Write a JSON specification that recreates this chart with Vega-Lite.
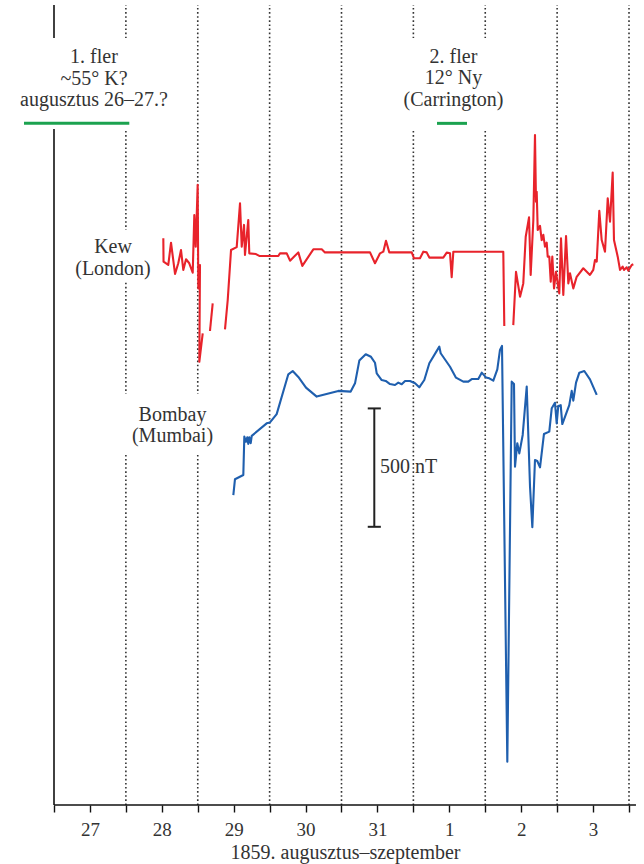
{
  "$schema": "https://vega.github.io/schema/vega-lite/v6.json",
  "width": 644,
  "height": 805,
  "autosize": {"type": "none"},
  "padding": {"left": 0, "top": 0, "right": 0, "bottom": 59},
  "background": "white",
  "config": {"view": {"stroke": null}},
  "datasets": {
    "guides": [
      {"kind": "day", "d": 1, "d2": 1, "v": 0, "v2": 3379},
      {"kind": "day", "d": 2, "d2": 2, "v": 0, "v2": 3379},
      {"kind": "day", "d": 3, "d2": 3, "v": 0, "v2": 3379},
      {"kind": "day", "d": 4, "d2": 4, "v": 0, "v2": 3379},
      {"kind": "day", "d": 5, "d2": 5, "v": 0, "v2": 3379},
      {"kind": "day", "d": 6, "d2": 6, "v": 0, "v2": 3379},
      {"kind": "day", "d": 7, "d2": 7, "v": 0, "v2": 3379},
      {"kind": "day", "d": 8, "d2": 8, "v": 0, "v2": 3379},
      {"kind": "axis", "d": 0, "d2": 0, "v": 0, "v2": 3379},
      {"kind": "axis", "d": 0, "d2": 8.097, "v": 0, "v2": 0},
      {"kind": "flare", "d": -0.4174, "d2": 1.0477, "v": 2879, "v2": 2879},
      {"kind": "flare", "d": 5.3287, "d2": 5.7461, "v": 2879, "v2": 2879},
      {"kind": "scale", "d": 4.4563, "d2": 4.4563, "v": 1175, "v2": 1675},
      {"kind": "scale", "d": 4.3652, "d2": 4.5474, "v": 1675, "v2": 1675},
      {"kind": "scale", "d": 4.3652, "d2": 4.5474, "v": 1175, "v2": 1175}
    ],
    "boxes": [
      {"d": -0.64, "d2": 1.8226, "v": 2855, "v2": 3240},
      {"d": 4.6748, "d2": 6.4139, "v": 2855, "v2": 3240},
      {"d": 0.2504, "d2": 1.3913, "v": 2213, "v2": 2429},
      {"d": 0.9183, "d2": 2.24, "v": 1478, "v2": 1736}
    ],
    "labels": [
      {"text": "1. fler\n~55° K?\naugusztus 26–27.?", "d": 0.5565, "v": 3133},
      {"text": "2. fler\n12° Ny\n(Carrington)", "d": 5.5582, "v": 3136},
      {"text": "Kew\n(London)", "d": 0.8209, "v": 2330},
      {"text": "Bombay\n(Mumbai)", "d": 1.6487, "v": 1623}
    ],
    "scalelabel": [
      {"text": "500 nT", "d": 4.5356, "v": 1401}
    ],
    "lines": [
      {"station": "Kew", "seg": "K1", "d": 1.521, "v": 2394},
      {"station": "Kew", "seg": "K1", "d": 1.524, "v": 2295},
      {"station": "Kew", "seg": "K1", "d": 1.590, "v": 2281},
      {"station": "Kew", "seg": "K1", "d": 1.628, "v": 2375},
      {"station": "Kew", "seg": "K1", "d": 1.684, "v": 2243},
      {"station": "Kew", "seg": "K1", "d": 1.729, "v": 2288},
      {"station": "Kew", "seg": "K1", "d": 1.767, "v": 2344},
      {"station": "Kew", "seg": "K1", "d": 1.799, "v": 2260},
      {"station": "Kew", "seg": "K1", "d": 1.837, "v": 2305},
      {"station": "Kew", "seg": "K1", "d": 1.882, "v": 2288},
      {"station": "Kew", "seg": "K1", "d": 1.930, "v": 2248},
      {"station": "Kew", "seg": "K1", "d": 1.952, "v": 2492},
      {"station": "Kew", "seg": "K1", "d": 1.972, "v": 2358},
      {"station": "Kew", "seg": "K1", "d": 1.999, "v": 2619},
      {"station": "Kew", "seg": "K1", "d": 2.008, "v": 2182},
      {"station": "Kew", "seg": "K1", "d": 2.031, "v": 2281},
      {"station": "Kew", "seg": "K1", "d": 2.022, "v": 1872},
      {"station": "Kew", "seg": "K1", "d": 2.069, "v": 1992},
      {"station": "Kew", "seg": "K2", "d": 2.170, "v": 2002},
      {"station": "Kew", "seg": "K2", "d": 2.208, "v": 2119},
      {"station": "Kew", "seg": "K3", "d": 2.379, "v": 2009},
      {"station": "Kew", "seg": "K3", "d": 2.417, "v": 2133},
      {"station": "Kew", "seg": "K3", "d": 2.463, "v": 2344},
      {"station": "Kew", "seg": "K3", "d": 2.542, "v": 2356},
      {"station": "Kew", "seg": "K3", "d": 2.588, "v": 2541},
      {"station": "Kew", "seg": "K3", "d": 2.612, "v": 2358},
      {"station": "Kew", "seg": "K3", "d": 2.644, "v": 2450},
      {"station": "Kew", "seg": "K3", "d": 2.657, "v": 2323},
      {"station": "Kew", "seg": "K3", "d": 2.703, "v": 2471},
      {"station": "Kew", "seg": "K3", "d": 2.717, "v": 2330},
      {"station": "Kew", "seg": "K3", "d": 2.810, "v": 2327},
      {"station": "Kew", "seg": "K3", "d": 2.856, "v": 2319},
      {"station": "Kew", "seg": "K3", "d": 3.121, "v": 2319},
      {"station": "Kew", "seg": "K3", "d": 3.144, "v": 2330},
      {"station": "Kew", "seg": "K3", "d": 3.238, "v": 2330},
      {"station": "Kew", "seg": "K3", "d": 3.284, "v": 2299},
      {"station": "Kew", "seg": "K3", "d": 3.399, "v": 2334},
      {"station": "Kew", "seg": "K3", "d": 3.455, "v": 2277},
      {"station": "Kew", "seg": "K3", "d": 3.608, "v": 2347},
      {"station": "Kew", "seg": "K3", "d": 3.725, "v": 2347},
      {"station": "Kew", "seg": "K3", "d": 3.770, "v": 2334},
      {"station": "Kew", "seg": "K3", "d": 4.397, "v": 2334},
      {"station": "Kew", "seg": "K3", "d": 4.466, "v": 2288},
      {"station": "Kew", "seg": "K3", "d": 4.536, "v": 2330},
      {"station": "Kew", "seg": "K3", "d": 4.582, "v": 2337},
      {"station": "Kew", "seg": "K3", "d": 4.619, "v": 2383},
      {"station": "Kew", "seg": "K3", "d": 4.665, "v": 2334},
      {"station": "Kew", "seg": "K3", "d": 4.977, "v": 2334},
      {"station": "Kew", "seg": "K3", "d": 5.009, "v": 2309},
      {"station": "Kew", "seg": "K3", "d": 5.092, "v": 2309},
      {"station": "Kew", "seg": "K3", "d": 5.138, "v": 2337},
      {"station": "Kew", "seg": "K3", "d": 5.185, "v": 2334},
      {"station": "Kew", "seg": "K3", "d": 5.222, "v": 2312},
      {"station": "Kew", "seg": "K3", "d": 5.416, "v": 2312},
      {"station": "Kew", "seg": "K3", "d": 5.464, "v": 2333},
      {"station": "Kew", "seg": "K3", "d": 5.510, "v": 2330},
      {"station": "Kew", "seg": "K3", "d": 5.533, "v": 2229},
      {"station": "Kew", "seg": "K3", "d": 5.556, "v": 2337},
      {"station": "Kew", "seg": "K3", "d": 6.251, "v": 2337},
      {"station": "Kew", "seg": "K3", "d": 6.265, "v": 2023},
      {"station": "Kew", "seg": "K4", "d": 6.390, "v": 2027},
      {"station": "Kew", "seg": "K4", "d": 6.428, "v": 2252},
      {"station": "Kew", "seg": "K4", "d": 6.484, "v": 2147},
      {"station": "Kew", "seg": "K4", "d": 6.529, "v": 2203},
      {"station": "Kew", "seg": "K4", "d": 6.563, "v": 2400},
      {"station": "Kew", "seg": "K4", "d": 6.609, "v": 2482},
      {"station": "Kew", "seg": "K4", "d": 6.632, "v": 2239},
      {"station": "Kew", "seg": "K4", "d": 6.669, "v": 2471},
      {"station": "Kew", "seg": "K4", "d": 6.692, "v": 2830},
      {"station": "Kew", "seg": "K4", "d": 6.706, "v": 2548},
      {"station": "Kew", "seg": "K4", "d": 6.716, "v": 2590},
      {"station": "Kew", "seg": "K4", "d": 6.730, "v": 2429},
      {"station": "Kew", "seg": "K4", "d": 6.762, "v": 2446},
      {"station": "Kew", "seg": "K4", "d": 6.785, "v": 2386},
      {"station": "Kew", "seg": "K4", "d": 6.808, "v": 2408},
      {"station": "Kew", "seg": "K4", "d": 6.831, "v": 2358},
      {"station": "Kew", "seg": "K4", "d": 6.855, "v": 2375},
      {"station": "Kew", "seg": "K4", "d": 6.869, "v": 2316},
      {"station": "Kew", "seg": "K4", "d": 6.891, "v": 2316},
      {"station": "Kew", "seg": "K4", "d": 6.911, "v": 2210},
      {"station": "Kew", "seg": "K4", "d": 6.933, "v": 2316},
      {"station": "Kew", "seg": "K4", "d": 6.957, "v": 2182},
      {"station": "Kew", "seg": "K4", "d": 6.984, "v": 2252},
      {"station": "Kew", "seg": "K4", "d": 7.030, "v": 2161},
      {"station": "Kew", "seg": "K4", "d": 7.054, "v": 2394},
      {"station": "Kew", "seg": "K4", "d": 7.086, "v": 2154},
      {"station": "Kew", "seg": "K4", "d": 7.124, "v": 2403},
      {"station": "Kew", "seg": "K4", "d": 7.156, "v": 2203},
      {"station": "Kew", "seg": "K4", "d": 7.179, "v": 2246},
      {"station": "Kew", "seg": "K4", "d": 7.225, "v": 2182},
      {"station": "Kew", "seg": "K4", "d": 7.272, "v": 2231},
      {"station": "Kew", "seg": "K4", "d": 7.364, "v": 2267},
      {"station": "Kew", "seg": "K4", "d": 7.457, "v": 2239},
      {"station": "Kew", "seg": "K4", "d": 7.503, "v": 2260},
      {"station": "Kew", "seg": "K4", "d": 7.527, "v": 2302},
      {"station": "Kew", "seg": "K4", "d": 7.551, "v": 2295},
      {"station": "Kew", "seg": "K4", "d": 7.587, "v": 2510},
      {"station": "Kew", "seg": "K4", "d": 7.620, "v": 2386},
      {"station": "Kew", "seg": "K4", "d": 7.666, "v": 2337},
      {"station": "Kew", "seg": "K4", "d": 7.704, "v": 2562},
      {"station": "Kew", "seg": "K4", "d": 7.736, "v": 2464},
      {"station": "Kew", "seg": "K4", "d": 7.773, "v": 2671},
      {"station": "Kew", "seg": "K4", "d": 7.791, "v": 2386},
      {"station": "Kew", "seg": "K4", "d": 7.843, "v": 2316},
      {"station": "Kew", "seg": "K4", "d": 7.875, "v": 2260},
      {"station": "Kew", "seg": "K4", "d": 7.912, "v": 2274},
      {"station": "Kew", "seg": "K4", "d": 7.930, "v": 2260},
      {"station": "Kew", "seg": "K4", "d": 7.968, "v": 2271},
      {"station": "Kew", "seg": "K4", "d": 7.990, "v": 2257},
      {"station": "Kew", "seg": "K4", "d": 8.038, "v": 2281},
      {"station": "Kew", "seg": "K4", "d": 8.060, "v": 2284},
      {"station": "Bombay", "seg": "B1", "d": 2.495, "v": 1309},
      {"station": "Bombay", "seg": "B1", "d": 2.518, "v": 1376},
      {"station": "Bombay", "seg": "B1", "d": 2.634, "v": 1394},
      {"station": "Bombay", "seg": "B1", "d": 2.648, "v": 1556},
      {"station": "Bombay", "seg": "B1", "d": 2.671, "v": 1534},
      {"station": "Bombay", "seg": "B1", "d": 2.689, "v": 1553},
      {"station": "Bombay", "seg": "B1", "d": 2.703, "v": 1525},
      {"station": "Bombay", "seg": "B1", "d": 2.717, "v": 1553},
      {"station": "Bombay", "seg": "B1", "d": 2.737, "v": 1528},
      {"station": "Bombay", "seg": "B1", "d": 2.751, "v": 1559},
      {"station": "Bombay", "seg": "B1", "d": 2.959, "v": 1612},
      {"station": "Bombay", "seg": "B1", "d": 3.005, "v": 1616},
      {"station": "Bombay", "seg": "B1", "d": 3.098, "v": 1651},
      {"station": "Bombay", "seg": "B1", "d": 3.260, "v": 1819},
      {"station": "Bombay", "seg": "B1", "d": 3.321, "v": 1833},
      {"station": "Bombay", "seg": "B1", "d": 3.399, "v": 1808},
      {"station": "Bombay", "seg": "B1", "d": 3.506, "v": 1763},
      {"station": "Bombay", "seg": "B1", "d": 3.655, "v": 1725},
      {"station": "Bombay", "seg": "B1", "d": 3.956, "v": 1749},
      {"station": "Bombay", "seg": "B1", "d": 4.128, "v": 1746},
      {"station": "Bombay", "seg": "B1", "d": 4.188, "v": 1781},
      {"station": "Bombay", "seg": "B1", "d": 4.248, "v": 1877},
      {"station": "Bombay", "seg": "B1", "d": 4.337, "v": 1904},
      {"station": "Bombay", "seg": "B1", "d": 4.410, "v": 1893},
      {"station": "Bombay", "seg": "B1", "d": 4.466, "v": 1868},
      {"station": "Bombay", "seg": "B1", "d": 4.490, "v": 1823},
      {"station": "Bombay", "seg": "B1", "d": 4.559, "v": 1795},
      {"station": "Bombay", "seg": "B1", "d": 4.615, "v": 1791},
      {"station": "Bombay", "seg": "B1", "d": 4.675, "v": 1778},
      {"station": "Bombay", "seg": "B1", "d": 4.744, "v": 1774},
      {"station": "Bombay", "seg": "B1", "d": 4.790, "v": 1784},
      {"station": "Bombay", "seg": "B1", "d": 4.838, "v": 1777},
      {"station": "Bombay", "seg": "B1", "d": 4.884, "v": 1791},
      {"station": "Bombay", "seg": "B1", "d": 4.953, "v": 1791},
      {"station": "Bombay", "seg": "B1", "d": 5.023, "v": 1781},
      {"station": "Bombay", "seg": "B1", "d": 5.082, "v": 1764},
      {"station": "Bombay", "seg": "B1", "d": 5.152, "v": 1795},
      {"station": "Bombay", "seg": "B1", "d": 5.222, "v": 1866},
      {"station": "Bombay", "seg": "B1", "d": 5.361, "v": 1936},
      {"station": "Bombay", "seg": "B1", "d": 5.380, "v": 1908},
      {"station": "Bombay", "seg": "B1", "d": 5.510, "v": 1851},
      {"station": "Bombay", "seg": "B1", "d": 5.593, "v": 1805},
      {"station": "Bombay", "seg": "B1", "d": 5.695, "v": 1788},
      {"station": "Bombay", "seg": "B1", "d": 5.764, "v": 1788},
      {"station": "Bombay", "seg": "B1", "d": 5.812, "v": 1799},
      {"station": "Bombay", "seg": "B1", "d": 5.903, "v": 1799},
      {"station": "Bombay", "seg": "B1", "d": 5.951, "v": 1826},
      {"station": "Bombay", "seg": "B1", "d": 6.010, "v": 1806},
      {"station": "Bombay", "seg": "B1", "d": 6.056, "v": 1802},
      {"station": "Bombay", "seg": "B1", "d": 6.112, "v": 1792},
      {"station": "Bombay", "seg": "B1", "d": 6.168, "v": 1840},
      {"station": "Bombay", "seg": "B1", "d": 6.205, "v": 1922},
      {"station": "Bombay", "seg": "B1", "d": 6.233, "v": 1939},
      {"station": "Bombay", "seg": "B1", "d": 6.307, "v": 183},
      {"station": "Bombay", "seg": "B1", "d": 6.368, "v": 1788},
      {"station": "Bombay", "seg": "B1", "d": 6.400, "v": 1778},
      {"station": "Bombay", "seg": "B1", "d": 6.414, "v": 1429},
      {"station": "Bombay", "seg": "B1", "d": 6.446, "v": 1528},
      {"station": "Bombay", "seg": "B1", "d": 6.474, "v": 1485},
      {"station": "Bombay", "seg": "B1", "d": 6.521, "v": 1563},
      {"station": "Bombay", "seg": "B1", "d": 6.577, "v": 1767},
      {"station": "Bombay", "seg": "B1", "d": 6.623, "v": 1344},
      {"station": "Bombay", "seg": "B1", "d": 6.655, "v": 1173},
      {"station": "Bombay", "seg": "B1", "d": 6.692, "v": 1457},
      {"station": "Bombay", "seg": "B1", "d": 6.724, "v": 1453},
      {"station": "Bombay", "seg": "B1", "d": 6.762, "v": 1426},
      {"station": "Bombay", "seg": "B1", "d": 6.817, "v": 1567},
      {"station": "Bombay", "seg": "B1", "d": 6.891, "v": 1577},
      {"station": "Bombay", "seg": "B1", "d": 6.925, "v": 1676},
      {"station": "Bombay", "seg": "B1", "d": 6.970, "v": 1699},
      {"station": "Bombay", "seg": "B1", "d": 6.994, "v": 1612},
      {"station": "Bombay", "seg": "B1", "d": 7.016, "v": 1685},
      {"station": "Bombay", "seg": "B1", "d": 7.050, "v": 1689},
      {"station": "Bombay", "seg": "B1", "d": 7.072, "v": 1609},
      {"station": "Bombay", "seg": "B1", "d": 7.169, "v": 1689},
      {"station": "Bombay", "seg": "B1", "d": 7.203, "v": 1749},
      {"station": "Bombay", "seg": "B1", "d": 7.225, "v": 1708},
      {"station": "Bombay", "seg": "B1", "d": 7.263, "v": 1784},
      {"station": "Bombay", "seg": "B1", "d": 7.309, "v": 1826},
      {"station": "Bombay", "seg": "B1", "d": 7.378, "v": 1833},
      {"station": "Bombay", "seg": "B1", "d": 7.457, "v": 1798},
      {"station": "Bombay", "seg": "B1", "d": 7.551, "v": 1732}
    ]
  },
  "encoding": {
    "x": {
      "field": "d",
      "type": "quantitative",
      "scale": {"domain": [-0.7513, 8.2087], "nice": false, "zero": false},
      "axis": {
        "values": [0, 0.5, 1, 1.5, 2, 2.5, 3, 3.5, 4, 4.5, 5, 5.5, 6, 6.5, 7, 7.5, 8],
        "labelExpr": "(datum.value % 1) == 0.5 ? ['27','28','29','30','31','1','2','3'][floor(datum.value)] : ''",
        "domain": false,
        "grid": false,
        "tickSize": 7,
        "tickColor": "#111111",
        "tickWidth": 1.4,
        "labelFont": "Liberation Serif",
        "labelFontSize": 19,
        "labelColor": "#333333",
        "labelPadding": 8,
        "labelOverlap": false,
        "labelFlush": false,
        "title": "1859. augusztus–szeptember",
        "titleFont": "Liberation Serif",
        "titleFontSize": 20,
        "titleFontWeight": "normal",
        "titleColor": "#333333",
        "titlePadding": 3,
        "titleX": 345,
        "titleAlign": "center"
      }
    },
    "y": {
      "field": "v",
      "type": "quantitative",
      "scale": {"domain": [0, 3400], "nice": false, "zero": false},
      "axis": null
    }
  },
  "layer": [
    {
      "data": {"name": "guides"},
      "transform": [{"filter": "datum.kind == 'day'"}],
      "mark": {"type": "rule", "color": "#333333", "strokeWidth": 1.6, "strokeDash": [1.6, 2.5]},
      "encoding": {"x2": {"field": "d2"}, "y2": {"field": "v2"}}
    },
    {
      "data": {"name": "guides"},
      "transform": [{"filter": "datum.kind == 'axis'"}],
      "mark": {"type": "rule", "color": "#111111", "strokeWidth": 1.6},
      "encoding": {"x2": {"field": "d2"}, "y2": {"field": "v2"}}
    },
    {
      "data": {"name": "boxes"},
      "mark": {"type": "rect", "fill": "white", "stroke": null},
      "encoding": {"x2": {"field": "d2"}, "y2": {"field": "v2"}}
    },
    {
      "data": {"name": "guides"},
      "transform": [{"filter": "datum.kind == 'flare'"}],
      "mark": {"type": "rule", "color": "#1ba24f", "strokeWidth": 3},
      "encoding": {"x2": {"field": "d2"}, "y2": {"field": "v2"}}
    },
    {
      "data": {"name": "guides"},
      "transform": [{"filter": "datum.kind == 'scale'"}],
      "mark": {"type": "rule", "color": "#222222", "strokeWidth": 2},
      "encoding": {"x2": {"field": "d2"}, "y2": {"field": "v2"}}
    },
    {
      "data": {"name": "lines"},
      "mark": {"type": "line", "strokeWidth": 2.1, "strokeJoin": "round"},
      "encoding": {
        "color": {
          "field": "station",
          "type": "nominal",
          "scale": {"domain": ["Kew", "Bombay"], "range": ["#e8232b", "#1f5fae"]},
          "legend": null
        },
        "detail": {"field": "seg"},
        "order": {"value": null}
      }
    },
    {
      "data": {"name": "labels"},
      "mark": {"type": "text", "font": "Liberation Serif", "fontSize": 20, "color": "#333333", "align": "center", "baseline": "alphabetic", "lineBreak": "\n", "lineHeight": 21.5},
      "encoding": {"text": {"field": "text"}}
    },
    {
      "data": {"name": "scalelabel"},
      "mark": {"type": "text", "font": "Liberation Serif", "fontSize": 20, "color": "#333333", "align": "left", "baseline": "alphabetic"},
      "encoding": {"text": {"field": "text"}}
    }
  ]
}
